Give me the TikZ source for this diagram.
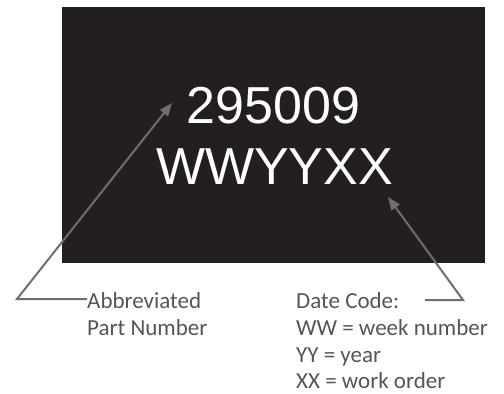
\documentclass[tikz,border=0pt]{standalone}
\usepackage{fontspec}
\setmainfont{Carlito}
\newfontfamily\arialfont{Liberation Sans}
\usetikzlibrary{arrows.meta}
\definecolor{platecol}{HTML}{231F20}
\definecolor{leadcol}{HTML}{6E6E6E}
\definecolor{labelcol}{HTML}{555555}
\tikzset{
  plate/.style={fill=platecol},
  code/.style={text=white, font=\arialfont\fontsize{52}{52}\selectfont, inner sep=0pt, anchor=base},
  label/.style={text=labelcol, font=\fontsize{23}{26.7}\selectfont, inner sep=0pt, align=left, anchor=north west},
  lead/.style={draw=leadcol, line width=2pt, line join=miter, -{Triangle[length=13pt,width=10pt]}}
}
\begin{document}
\begin{tikzpicture}[x=1pt,y=-1pt]
\useasboundingbox (0,0) rectangle (504,394);
\fill[plate] (62,7) rectangle (485,263);
\node[code] (pn) at (273.5,123) {295009};
\node[code] (dc) at (274.5,184) {WWYYXX};
\node[label] (abbr) at (87,292.5) {Abbreviated\\Part Number};
\node[label] (date) at (296,292.5) {Date Code:\\WW = week number\\YY = year\\XX = work order};
\coordinate (ltip) at (172,103);
\coordinate (lbend) at (17,299);
\coordinate (rtip) at (388,197);
\coordinate (rbend) at (463,300);
\coordinate (rstart) at (425,300);
\draw[lead] (abbr.west |- lbend) -- (lbend) -- (ltip);
\draw[lead] (rstart) -- (rbend) -- (rtip);
\end{tikzpicture}
\end{document}
